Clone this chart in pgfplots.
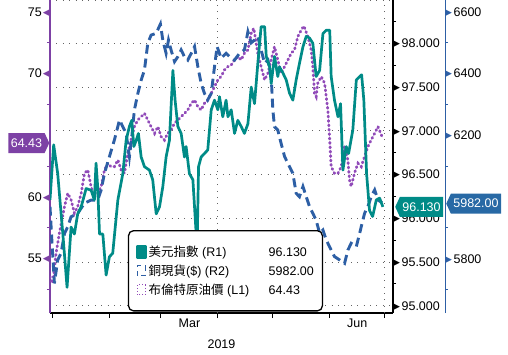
\documentclass[border=0pt]{standalone}
\usepackage{pgfplots}
\usepackage{pgfplotstable}
\pgfplotsset{compat=1.18}
\usepackage{fontspec}
\setmainfont{Liberation Sans}
\newfontfamily\cjk{Noto Sans CJK TC}
\newfontfamily\sym{DejaVu Sans}
\usetikzlibrary{shapes.symbols}

\definecolor{dxy}{RGB}{0,139,135}
\definecolor{cu}{RGB}{45,95,165}
\definecolor{brent}{RGB}{145,75,185}
\definecolor{laxis}{RGB}{125,65,165}
\definecolor{cutag}{RGB}{40,105,165}
\definecolor{gridc}{RGB}{100,100,100}

% day 0 = 1 Jan 2019
\pgfplotstableread{
day val
-1.5 96.21
0.5 96.84
2.7 96.51
5.5 95.82
7.8 95.21
10.0 95.90
11.8 95.82
13.6 96.05
15.5 96.13
18.2 96.34
20.9 96.32
22.7 96.21
23.6 96.63
24.5 96.36
25.5 95.82
27.3 95.82
29.1 95.35
30.9 95.56
32.7 95.60
35.5 96.21
38.2 96.51
40.0 96.89
41.8 97.05
43.1 97.12
44.2 96.82
45.5 96.89
46.7 96.97
48.2 96.70
50.0 96.59
52.7 96.55
54.5 96.44
56.4 96.05
58.2 96.13
60.0 96.36
61.8 96.70
63.6 96.89
65.5 97.69
66.7 97.35
68.2 97.05
70.0 96.97
71.8 96.70
72.7 96.82
74.5 96.51
76.4 96.44
78.2 95.82
78.7 95.67
79.5 96.59
80.9 96.70
82.7 96.74
84.5 96.78
86.4 97.24
88.2 97.35
90.0 97.24
90.9 97.39
92.7 97.16
94.5 97.35
95.5 97.16
97.3 97.24
99.1 96.97
100.9 97.12
102.7 97.05
104.5 96.97
106.4 97.08
108.2 97.50
110.0 97.31
111.8 97.77
113.6 98.19
115.5 98.19
116.4 97.85
118.2 97.73
119.1 97.54
120.9 97.85
122.7 97.62
123.6 97.73
125.5 97.66
127.3 97.58
129.1 97.43
130.9 97.35
132.7 97.58
134.5 97.77
136.4 97.96
138.2 98.08
140.0 98.06
141.8 98.00
143.6 97.62
145.5 97.69
147.3 98.11
149.1 98.15
151.0 98.15
151.8 97.62
153.6 97.35
155.5 97.16
156.9 97.31
158.2 96.55
160.0 96.82
161.3 96.74
163.6 97.01
165.5 97.58
167.3 97.62
168.4 97.64
169.6 97.35
171.1 96.51
172.7 96.09
174.4 96.02
176.4 96.21
178.2 96.23
180.0 96.13
}\dxytab

\pgfplotstableread{
day val
-1.5 5969
-0.5 5861
0.9 5720
2.7 5796
4.5 5817
6.4 5882
8.2 5904
10.0 5936
13.6 5947
17.3 5980
20.9 5990
24.5 5990
26.4 6023
28.2 6077
30.9 6131
33.6 6185
36.4 6250
38.2 6228
40.0 6207
41.8 6131
43.1 6196
44.5 6282
46.4 6336
48.2 6379
50.0 6412
51.8 6498
53.6 6525
56.4 6531
58.7 6561
60.0 6509
61.8 6466
63.1 6509
64.5 6477
66.4 6439
68.2 6455
70.0 6477
71.8 6455
73.6 6444
75.5 6466
77.3 6488
79.1 6423
80.9 6369
82.7 6336
84.5 6315
86.4 6336
88.2 6423
89.6 6488
91.8 6450
94.5 6466
96.4 6455
99.1 6444
101.8 6466
104.5 6477
106.4 6536
108.2 6500
110.0 6509
111.8 6520
113.6 6477
115.5 6434
117.3 6444
119.1 6390
120.0 6282
120.9 6228
122.7 6217
124.5 6174
126.4 6131
129.1 6098
130.9 6077
132.7 6012
134.5 6001
136.4 6034
138.2 6001
140.0 5969
141.8 5947
143.6 5925
145.5 5882
147.3 5893
149.1 5861
151.8 5828
153.6 5807
156.4 5796
159.1 5785
160.9 5828
162.7 5850
165.5 5839
167.3 5882
168.2 5904
170.0 5947
171.8 5969
173.6 6001
175.5 6023
177.3 5990
179.5 5982
}\cutab

\pgfplotstableread{
day val
-1.5 53.54
0.0 53.00
1.8 55.43
3.6 57.05
6.4 59.22
8.2 60.30
10.0 59.76
11.8 58.68
13.6 59.22
15.5 60.30
17.3 61.92
19.1 62.19
20.9 60.84
22.7 60.03
24.5 60.30
26.4 60.84
28.2 62.19
30.0 62.73
31.8 62.46
33.6 62.46
35.5 63.00
37.3 62.19
39.1 61.92
40.9 63.54
42.7 64.62
44.5 65.70
46.4 66.24
48.2 66.51
50.0 66.78
51.8 66.24
53.6 65.70
55.5 65.16
57.3 65.70
59.1 64.89
60.9 64.62
62.7 65.16
64.5 65.43
66.4 65.97
68.2 66.24
70.0 66.51
71.8 66.78
73.6 67.05
75.5 67.59
77.3 67.86
79.1 67.32
80.9 67.05
82.7 67.59
84.5 67.86
86.4 68.41
88.2 68.95
90.0 69.49
91.8 69.76
93.6 70.30
95.5 70.57
97.3 70.70
99.1 71.11
100.9 71.38
102.7 71.11
104.5 71.65
106.4 71.92
108.2 73.27
109.6 73.68
111.8 71.65
113.6 70.57
115.5 69.49
117.3 70.03
119.1 71.11
120.9 72.19
122.7 71.11
124.5 70.03
126.4 70.57
128.2 71.11
130.0 71.65
131.8 71.92
133.6 73.00
135.5 73.54
136.9 73.86
139.1 73.00
140.9 71.92
141.8 70.57
142.7 68.41
143.6 68.14
144.5 69.22
146.4 69.76
148.2 69.22
150.0 67.05
151.0 64.62
151.8 62.46
153.6 61.92
155.5 61.92
157.3 62.46
159.1 64.08
160.9 63.00
161.8 61.38
162.7 60.84
164.5 61.92
166.4 62.73
168.2 62.46
170.0 63.27
171.8 64.08
173.6 64.62
175.5 65.16
177.3 65.70
179.5 64.90
}\brtab

\newcommand{\tf}{\fontsize{12.5bp}{14bp}\selectfont}
\newcommand{\trisize}{\fontsize{9bp}{9bp}\selectfont}
\newcommand{\rtri}{\raisebox{1bp}{\trisize\sym ▶}}
\newcommand{\ltri}{\raisebox{1bp}{\trisize\sym ◀}}

\tikzset{gridsty/.style={draw=gridc, line width=0.9bp, dash pattern=on 0.9bp off 5.5bp}}
\pgfplotsset{
  base/.style={
    scale only axis, width=343bp, height=313bp,
    at={(50bp,0bp)}, anchor=north west,
    xmin=-1.5, xmax=185.5,
    tick label style={font=\tf},
    /pgf/number format/assume math mode=true,
    /pgf/number format/1000 sep={},
  },
}

\begin{document}
\begin{tikzpicture}
\path[use as bounding box] (0,0) rectangle (508bp,-355bp);

% x axis, month ticks, quarter grid
\begin{axis}[base, ymin=0, ymax=1,
  axis x line*=bottom, axis y line=none,
  x axis line style={black, line width=1.3bp},
  xtick={74.5,166}, xticklabels={Mar,Jun},
  xticklabel style={yshift=-2bp},
  major tick length=0pt,
  minor xtick={0,31,59,90,120,151,181},
  minor tick length=5bp, tick align=outside,
  every minor tick/.append style={black, line width=1bp},
  extra x ticks={90,181}, extra x tick labels={},
  extra x tick style={grid=major},
  grid style={gridsty},
  xlabel={2019}, xlabel style={font=\tf, yshift=-6bp},
]
\end{axis}

% R1 frame: horizontal grid, right axis
\begin{axis}[base, ymin=94.917, ymax=98.495,
  axis y line*=right, axis x line*=top,
  x axis line style={gridsty},
  xtick=\empty,
  y axis line style={black, line width=1.6bp},
  ytick={95,95.5,96,96.5,97,97.5,98},
  minor ytick={95.25,95.75,96.25,96.75,97.25,97.75,98.25},
  ymajorgrids, grid style={gridsty},
  major tick length=0pt, minor tick length=3bp, tick align=outside,
  every minor tick/.append style={black, line width=0.8bp},
  yticklabel style={anchor=west, inner sep=0pt},
  yticklabel={\rtri\kern1.5bp\pgfmathprintnumber[fixed,fixed zerofill,precision=3]{\tick}},
]
\end{axis}

% L1: Brent
\begin{axis}[base, ymin=50.59, ymax=75.97,
  axis y line*=left, axis x line=none,
  y axis line style={laxis, line width=1.3bp},
  ytick={55,60,70,75}, minor ytick={52.5,57.5,62.5,67.5,72.5},
  major tick length=0pt, minor tick length=3bp, tick align=outside,
  every minor tick/.append style={laxis, line width=0.8bp},
  yticklabel style={anchor=east, inner sep=0pt},
  yticklabel={\pgfmathprintnumber{\tick}\kern1bp{\color{laxis}\ltri}},
]
\addplot[brent, line width=2.8bp, line cap=round, dash pattern=on 1bp off 3.4bp] table {\brtab};
\end{axis}

% R2: copper
\begin{axis}[base, ymin=5623.9, ymax=6638.9,
  axis y line*=right, axis x line=none,
  y axis line style={cu, line width=1bp, xshift=52bp},
  ytick={5800,6200,6400,6600}, minor ytick={5700,5900,6100,6300,6500},
  major tick length=0pt, minor tick length=3bp, tick align=outside,
  every minor tick/.append style={cu, line width=0.8bp, xshift=52bp},
  yticklabel style={anchor=west, inner sep=0pt, xshift=52bp},
  yticklabel={{\color{cu}\rtri}\kern1.5bp\pgfmathprintnumber[fixed,precision=0]{\tick}},
]
\addplot[cu, line width=2.9bp, dash pattern=on 9bp off 5bp] table {\cutab};
\end{axis}

% R1: dollar index, legend and tags
\begin{axis}[base, ymin=94.917, ymax=98.495, hide axis, clip mode=individual,
  legend cell align=left,
  legend style={at={(0.227,0.265)}, anchor=north west, draw=black, line width=1.3bp,
    rounded corners=5bp, fill=white, inner xsep=7bp, inner ysep=13.5bp, row sep=4bp,
    font=\tf, nodes={inner sep=1.5bp}},
]
\addplot[dxy, line width=2.7bp, line join=round,
  legend image code/.code={\fill[dxy, sharp corners] (0bp,-5.5bp) rectangle (9bp,5.5bp);}] table {\dxytab};
\addlegendentry{\makebox[120bp][l]{{\cjk 美元指數} (R1)}96.130}
\addlegendimage{legend image code/.code={\draw[cu, sharp corners, line width=1.4bp, dash pattern=on 5bp off 4bp] (0.5bp,-5bp) rectangle (8.5bp,5bp);}}
\addlegendentry{\makebox[120bp][l]{{\cjk 銅現貨}(\$) (R2)}5982.00}
\addlegendimage{legend image code/.code={\draw[brent, sharp corners, line width=1.2bp, dash pattern=on 1bp off 2bp] (0.5bp,-5bp) rectangle (8.5bp,5bp);}}
\addlegendentry{\makebox[120bp][l]{{\cjk 布倫特原油價} (L1)}64.43}

\node[signal, signal to=west, signal pointer angle=130, fill=dxy, text=white, font=\tf,
  inner xsep=2.5bp, inner ysep=3bp, minimum height=20bp, anchor=west, xshift=2bp]
  at (axis cs:185.5,96.13) {96.130};
\node[signal, signal to=west, signal pointer angle=130, fill=cutag, text=white, font=\tf,
  inner xsep=2.5bp, inner ysep=3bp, minimum height=20bp, anchor=west, xshift=53bp]
  at (axis cs:185.5,96.167) {5982.00};
\node[signal, signal to=east, signal pointer angle=130, fill=laxis, text=white, font=\tf,
  inner xsep=2.5bp, inner ysep=3bp, minimum height=20bp, anchor=east, xshift=-0.5bp]
  at (axis cs:-1.5,96.860) {64.43};
\end{axis}
\end{tikzpicture}
\end{document}
